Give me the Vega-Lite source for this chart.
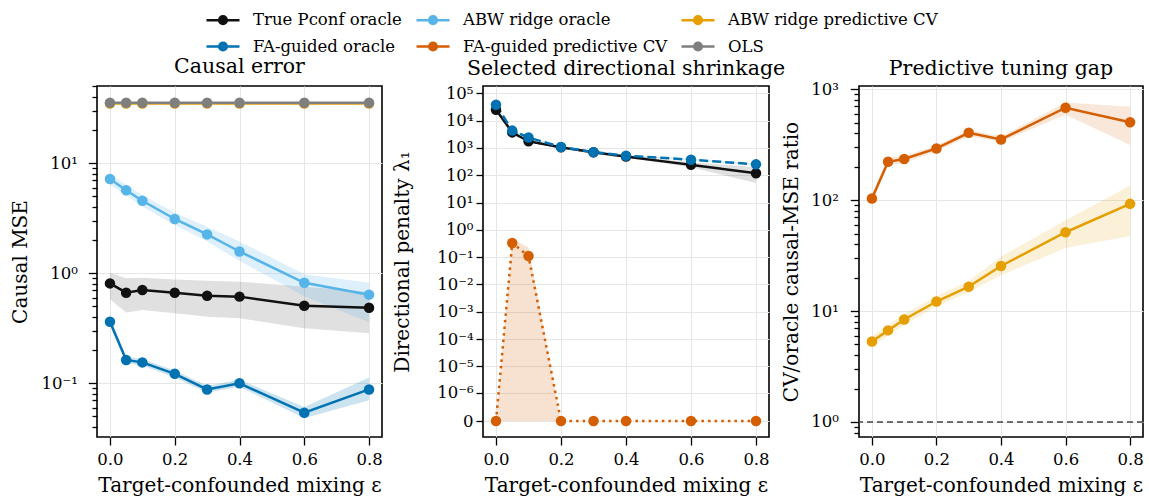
{
  "$schema": "https://vega.github.io/schema/vega-lite/v6.json",
  "padding": {"left": 10, "top": 8, "right": 2, "bottom": 2},
  "background": "white",
  "datasets": {
    "d": [
      {"p":1,"s":"True Pconf oracle","x":0,"y":0.81,"lo":0.58,"hi":1.01},
      {"p":1,"s":"True Pconf oracle","x":0.05,"y":0.667,"lo":0.44,"hi":0.9},
      {"p":1,"s":"True Pconf oracle","x":0.1,"y":0.705,"lo":0.464,"hi":0.91},
      {"p":1,"s":"True Pconf oracle","x":0.2,"y":0.667,"lo":0.433,"hi":0.88},
      {"p":1,"s":"True Pconf oracle","x":0.3,"y":0.626,"lo":0.403,"hi":0.857},
      {"p":1,"s":"True Pconf oracle","x":0.4,"y":0.614,"lo":0.39,"hi":0.84},
      {"p":1,"s":"True Pconf oracle","x":0.6,"y":0.508,"lo":0.316,"hi":0.757},
      {"p":1,"s":"True Pconf oracle","x":0.8,"y":0.487,"lo":0.285,"hi":0.68},
      {"p":1,"s":"FA-guided oracle","x":0,"y":0.363,"lo":0.34,"hi":0.39},
      {"p":1,"s":"FA-guided oracle","x":0.05,"y":0.163,"lo":0.152,"hi":0.175},
      {"p":1,"s":"FA-guided oracle","x":0.1,"y":0.155,"lo":0.145,"hi":0.166},
      {"p":1,"s":"FA-guided oracle","x":0.2,"y":0.122,"lo":0.113,"hi":0.131},
      {"p":1,"s":"FA-guided oracle","x":0.3,"y":0.088,"lo":0.082,"hi":0.095},
      {"p":1,"s":"FA-guided oracle","x":0.4,"y":0.1,"lo":0.093,"hi":0.108},
      {"p":1,"s":"FA-guided oracle","x":0.6,"y":0.054,"lo":0.048,"hi":0.061},
      {"p":1,"s":"FA-guided oracle","x":0.8,"y":0.088,"lo":0.07,"hi":0.113},
      {"p":1,"s":"ABW ridge oracle","x":0,"y":7.2,"lo":6.4,"hi":8.0},
      {"p":1,"s":"ABW ridge oracle","x":0.05,"y":5.7,"lo":5.1,"hi":6.4},
      {"p":1,"s":"ABW ridge oracle","x":0.1,"y":4.57,"lo":4.05,"hi":5.15},
      {"p":1,"s":"ABW ridge oracle","x":0.2,"y":3.12,"lo":2.75,"hi":3.55},
      {"p":1,"s":"ABW ridge oracle","x":0.3,"y":2.26,"lo":1.95,"hi":2.65},
      {"p":1,"s":"ABW ridge oracle","x":0.4,"y":1.58,"lo":1.3,"hi":1.95},
      {"p":1,"s":"ABW ridge oracle","x":0.6,"y":0.82,"lo":0.62,"hi":0.98},
      {"p":1,"s":"ABW ridge oracle","x":0.8,"y":0.64,"lo":0.36,"hi":0.82},
      {"p":1,"s":"ABW ridge predictive CV","x":0,"y":35.0},
      {"p":1,"s":"ABW ridge predictive CV","x":0.05,"y":35.0},
      {"p":1,"s":"ABW ridge predictive CV","x":0.1,"y":35.0},
      {"p":1,"s":"ABW ridge predictive CV","x":0.2,"y":35.0},
      {"p":1,"s":"ABW ridge predictive CV","x":0.3,"y":35.0},
      {"p":1,"s":"ABW ridge predictive CV","x":0.4,"y":35.0},
      {"p":1,"s":"ABW ridge predictive CV","x":0.6,"y":35.0},
      {"p":1,"s":"ABW ridge predictive CV","x":0.8,"y":35.0},
      {"p":1,"s":"OLS","x":0,"y":35.6},
      {"p":1,"s":"OLS","x":0.05,"y":35.6},
      {"p":1,"s":"OLS","x":0.1,"y":35.6},
      {"p":1,"s":"OLS","x":0.2,"y":35.6},
      {"p":1,"s":"OLS","x":0.3,"y":35.6},
      {"p":1,"s":"OLS","x":0.4,"y":35.6},
      {"p":1,"s":"OLS","x":0.6,"y":35.6},
      {"p":1,"s":"OLS","x":0.8,"y":35.6},
      {"p":2,"s":"True Pconf oracle","x":0,"y":25000,"lo":22000,"hi":28000},
      {"p":2,"s":"True Pconf oracle","x":0.05,"y":3700,"lo":3400,"hi":4000},
      {"p":2,"s":"True Pconf oracle","x":0.1,"y":1750,"lo":1600,"hi":1900},
      {"p":2,"s":"True Pconf oracle","x":0.2,"y":1050,"lo":980,"hi":1130},
      {"p":2,"s":"True Pconf oracle","x":0.3,"y":690,"lo":640,"hi":740},
      {"p":2,"s":"True Pconf oracle","x":0.4,"y":480,"lo":440,"hi":520},
      {"p":2,"s":"True Pconf oracle","x":0.6,"y":240,"lo":195,"hi":300},
      {"p":2,"s":"True Pconf oracle","x":0.8,"y":118,"lo":52,"hi":195},
      {"p":2,"s":"FA-guided oracle","x":0,"y":38000,"lo":36000,"hi":40000},
      {"p":2,"s":"FA-guided oracle","x":0.05,"y":4300,"lo":4100,"hi":4500},
      {"p":2,"s":"FA-guided oracle","x":0.1,"y":2400,"lo":2300,"hi":2500},
      {"p":2,"s":"FA-guided oracle","x":0.2,"y":1080,"lo":1030,"hi":1130},
      {"p":2,"s":"FA-guided oracle","x":0.3,"y":700,"lo":670,"hi":730},
      {"p":2,"s":"FA-guided oracle","x":0.4,"y":520,"lo":495,"hi":545},
      {"p":2,"s":"FA-guided oracle","x":0.6,"y":370,"lo":350,"hi":390},
      {"p":2,"s":"FA-guided oracle","x":0.8,"y":250,"lo":235,"hi":265},
      {"p":2,"s":"FA-guided predictive CV","x":0,"y":0,"lo":0,"hi":0},
      {"p":2,"s":"FA-guided predictive CV","x":0.05,"y":0.33,"lo":0,"hi":0.45},
      {"p":2,"s":"FA-guided predictive CV","x":0.1,"y":0.11,"lo":0,"hi":0.23},
      {"p":2,"s":"FA-guided predictive CV","x":0.2,"y":0,"lo":0,"hi":0},
      {"p":2,"s":"FA-guided predictive CV","x":0.3,"y":0,"lo":0,"hi":0},
      {"p":2,"s":"FA-guided predictive CV","x":0.4,"y":0,"lo":0,"hi":0},
      {"p":2,"s":"FA-guided predictive CV","x":0.6,"y":0,"lo":0,"hi":0},
      {"p":2,"s":"FA-guided predictive CV","x":0.8,"y":0,"lo":0,"hi":0},
      {"p":3,"s":"FA-guided predictive CV","x":0,"y":103.6,"lo":96,"hi":112},
      {"p":3,"s":"FA-guided predictive CV","x":0.05,"y":222,"lo":205,"hi":240},
      {"p":3,"s":"FA-guided predictive CV","x":0.1,"y":235,"lo":218,"hi":252},
      {"p":3,"s":"FA-guided predictive CV","x":0.2,"y":293,"lo":275,"hi":312},
      {"p":3,"s":"FA-guided predictive CV","x":0.3,"y":405,"lo":380,"hi":430},
      {"p":3,"s":"FA-guided predictive CV","x":0.4,"y":353,"lo":335,"hi":375},
      {"p":3,"s":"FA-guided predictive CV","x":0.6,"y":682,"lo":590,"hi":760},
      {"p":3,"s":"FA-guided predictive CV","x":0.8,"y":504,"lo":314,"hi":697},
      {"p":3,"s":"ABW ridge predictive CV","x":0,"y":5.32,"lo":4.8,"hi":5.9},
      {"p":3,"s":"ABW ridge predictive CV","x":0.05,"y":6.7,"lo":6.0,"hi":7.5},
      {"p":3,"s":"ABW ridge predictive CV","x":0.1,"y":8.4,"lo":7.5,"hi":9.4},
      {"p":3,"s":"ABW ridge predictive CV","x":0.2,"y":12.2,"lo":11.0,"hi":13.6},
      {"p":3,"s":"ABW ridge predictive CV","x":0.3,"y":16.6,"lo":14.8,"hi":18.7},
      {"p":3,"s":"ABW ridge predictive CV","x":0.4,"y":25.5,"lo":21,"hi":31},
      {"p":3,"s":"ABW ridge predictive CV","x":0.6,"y":51.4,"lo":37,"hi":66},
      {"p":3,"s":"ABW ridge predictive CV","x":0.8,"y":92.7,"lo":47.5,"hi":136}
    ]
  },
  "bounds": "flush",
  "spacing": 101,
  "resolve": {"scale": {"color": "shared"}, "legend": {"color": "shared"}},
  "hconcat": [
    {
      "width": 285, "height": 351,
      "title": {"text": "Causal error", "dy": 5},
      "data": {"name": "d"},
      "transform": [{"filter": "datum.p == 1"}],
      "encoding": {
        "x": {"field": "x", "type": "quantitative", "scale": {"domain": [-0.04, 0.84], "nice": false, "zero": false},
              "axis": {"values": [0, 0.2, 0.4, 0.6, 0.8], "format": ".1f", "title": "Target-confounded mixing ε", "labelPadding": 6}},
        "color": {"field": "s", "type": "nominal",
                  "scale": {"domain": ["True Pconf oracle", "FA-guided oracle", "ABW ridge oracle", "FA-guided predictive CV", "ABW ridge predictive CV", "OLS"],
                            "range": ["#111111", "#0072B2", "#56B4E9", "#D55E00", "#E69F00", "#7f7f7f"]}}
      },
      "layer": [
        {
          "mark": {"type": "area"},
          "encoding": {
            "y": {"field": "lo", "type": "quantitative", "scale": {"type": "log", "domain": [0.0325, 50.5], "nice": false},
                  "axis": {"values": [0.04,0.05,0.06,0.07,0.08,0.09,0.1,0.2,0.3,0.4,0.5,0.6,0.7,0.8,0.9,1,2,3,4,5,6,7,8,9,10,20,30,40,50],
                           "tickCount": 100,
                           "labelExpr": "indexof([0.1,1,10], datum.value) < 0 ? '' : '10' + (datum.value < 1 ? '⁻' : '') + ['⁰','¹','²','³','⁴','⁵','⁶','⁷','⁸','⁹'][abs(round(log(datum.value)/LN10))]",
                           "tickSize": {"condition": {"test": "indexof([0.1,1,10], datum.value) >= 0", "value": 8.7}, "value": 5},
                           "gridOpacity": {"condition": {"test": "indexof([0.1,1,10], datum.value) >= 0", "value": 1}, "value": 0},
                           "labelOverlap": false, "labelPadding": 11, "title": "Causal MSE", "titlePadding": 10}},
            "y2": {"field": "hi"},
            "opacity": {"condition": {"test": "datum.s == 'True Pconf oracle'", "value": 0.13}, "value": 0.2}
          }
        },
        {
          "mark": {"type": "line", "strokeWidth": 2.5, "point": {"filled": true, "size": 110, "opacity": 1}},
          "encoding": {
            "y": {"field": "y", "type": "quantitative"},
            "color": {"field": "s", "type": "nominal",
                      "legend": {
                        "orient": "none", "legendX": 114.5, "legendY": -77.7, "title": null, "columns": 3,
                        "symbolType": "M-1.65,0H1.65M-0.38,0A0.38,0.38 0 1,1 0.38,0A0.38,0.38 0 1,1 -0.38,0Z",
                        "symbolSize": 400, "symbolStrokeWidth": 2.5, "symbolOpacity": 1,
                        "labelFont": "DejaVu Serif", "labelFontSize": 16.5, "labelColor": "black", "labelOffset": 18.5,
                        "columnPadding": 9, "rowPadding": 5.7, "padding": 0, "labelLimit": 400,
                        "encode": {"symbols": {"update": {"fill": {"scale": "color", "field": "value"}, "stroke": {"scale": "color", "field": "value"}, "opacity": {"value": 1}}}}
                      }}
          }
        }
      ]
    },
    {
      "bounds": "flush",
      "spacing": 90,
      "resolve": {"scale": {"color": "shared"}, "legend": {"color": "shared"}},
      "hconcat": [
        {
          "width": 286, "height": 351,
          "title": {"text": "Selected directional shrinkage", "dy": 0},
          "data": {"name": "d"},
          "transform": [{"filter": "datum.p == 2"}],
          "encoding": {
            "x": {"field": "x", "type": "quantitative", "scale": {"domain": [-0.04, 0.84], "nice": false, "zero": false},
                  "axis": {"values": [0, 0.2, 0.4, 0.6, 0.8], "format": ".1f", "title": "Target-confounded mixing ε", "labelPadding": 6}},
            "color": {"field": "s", "type": "nominal",
                      "scale": {"domain": ["True Pconf oracle", "FA-guided oracle", "ABW ridge oracle", "FA-guided predictive CV", "ABW ridge predictive CV", "OLS"],
                                "range": ["#111111", "#0072B2", "#56B4E9", "#D55E00", "#E69F00", "#7f7f7f"]}}
          },
          "layer": [
            {
              "mark": {"type": "area"},
              "encoding": {
                "y": {"field": "lo", "type": "quantitative", "scale": {"type": "symlog", "constant": 1e-7, "domain": [-2.85e-7, 185000], "nice": false, "zero": false},
                      "axis": {"values": [0, 1e-6, 1e-5, 1e-4, 1e-3, 0.01, 0.1, 1, 10, 100, 1000, 10000, 100000],
                               "tickCount": 100,
                               "labelExpr": "datum.value == 0 ? '0\u2007' : '10' + (datum.value < 1 ? '⁻' : '') + ['⁰','¹','²','³','⁴','⁵','⁶','⁷','⁸','⁹'][abs(round(log(datum.value)/LN10))]",
                               "tickSize": 7, "labelOverlap": false, "labelPadding": 3, "title": "Directional penalty λ₁", "titlePadding": 24}},
                "y2": {"field": "hi"},
                "opacity": {"condition": {"test": "datum.s == 'True Pconf oracle'", "value": 0.13}, "value": 0.18}
              }
            },
            {
              "mark": {"type": "line", "strokeWidth": 2.5, "point": {"filled": true, "size": 110, "opacity": 1}},
              "encoding": {
                "y": {"field": "y", "type": "quantitative"},
                "strokeDash": {"field": "s", "type": "nominal", "legend": null,
                               "scale": {"domain": ["True Pconf oracle", "FA-guided oracle", "FA-guided predictive CV"], "range": [[1, 0], [9, 4], [2.5, 4.1]]}}
              }
            }
          ]
        },
        {
          "width": 284, "height": 351,
          "title": {"text": "Predictive tuning gap", "dy": 4},
          "layer": [
            {
              "data": {"name": "d"},
              "transform": [{"filter": "datum.p == 3"}],
              "mark": {"type": "area"},
              "encoding": {
                "x": {"field": "x", "type": "quantitative", "scale": {"domain": [-0.04, 0.84], "nice": false, "zero": false},
                      "axis": {"values": [0, 0.2, 0.4, 0.6, 0.8], "format": ".1f", "title": "Target-confounded mixing ε", "labelPadding": 6}},
                "y": {"field": "lo", "type": "quantitative", "scale": {"type": "log", "domain": [0.732, 1071], "nice": false},
                      "axis": {"values": [0.8,0.9,1,2,3,4,5,6,7,8,9,10,20,30,40,50,60,70,80,90,100,200,300,400,500,600,700,800,900,1000],
                               "tickCount": 100,
                               "labelExpr": "indexof([1,10,100,1000], datum.value) < 0 ? '' : '10' + ['⁰','¹','²','³','⁴','⁵','⁶','⁷','⁸','⁹'][abs(round(log(datum.value)/LN10))]",
                               "tickSize": {"condition": {"test": "indexof([1,10,100,1000], datum.value) >= 0", "value": 8.7}, "value": 5},
                               "gridOpacity": {"condition": {"test": "indexof([1,10,100,1000], datum.value) >= 0", "value": 1}, "value": 0},
                               "labelOverlap": false, "labelPadding": 12, "title": "CV/oracle causal-MSE ratio", "titlePadding": 9}},
                "y2": {"field": "hi"},
                "color": {"field": "s", "type": "nominal",
                          "scale": {"domain": ["True Pconf oracle", "FA-guided oracle", "ABW ridge oracle", "FA-guided predictive CV", "ABW ridge predictive CV", "OLS"],
                                    "range": ["#111111", "#0072B2", "#56B4E9", "#D55E00", "#E69F00", "#7f7f7f"]}},
                "opacity": {"value": 0.15}
              }
            },
            {
              "data": {"values": [{"r": 1}]},
              "mark": {"type": "rule", "color": "#444444", "strokeDash": [6, 4], "strokeWidth": 1.5},
              "encoding": {"y": {"datum": 1}}
            },
            {
              "data": {"name": "d"},
              "transform": [{"filter": "datum.p == 3"}],
              "mark": {"type": "line", "strokeWidth": 2.5, "point": {"filled": true, "size": 110, "opacity": 1}},
              "encoding": {
                "x": {"field": "x", "type": "quantitative"},
                "y": {"field": "y", "type": "quantitative"},
                "color": {"field": "s", "type": "nominal"}
              }
            }
          ]
        }
      ]
    }
  ],
  "config": {
    "font": "DejaVu Serif",
    "view": {"stroke": "black", "strokeWidth": 1.6},
    "axis": {
      "labelFont": "DejaVu Serif", "labelFontSize": 16.5, "labelColor": "black",
      "titleFont": "DejaVu Serif", "titleFontSize": 20, "titleFontWeight": "normal", "titleColor": "black",
      "tickColor": "black", "tickWidth": 1.3, "tickSize": 8, "domain": false,
      "gridColor": "#e6e6e6", "gridWidth": 1, "labelPadding": 8, "titlePadding": 8
    },
    "title": {"font": "DejaVu Serif", "fontSize": 20.5, "fontWeight": "normal", "color": "black", "baseline": "alphabetic", "offset": 6}
  }
}
